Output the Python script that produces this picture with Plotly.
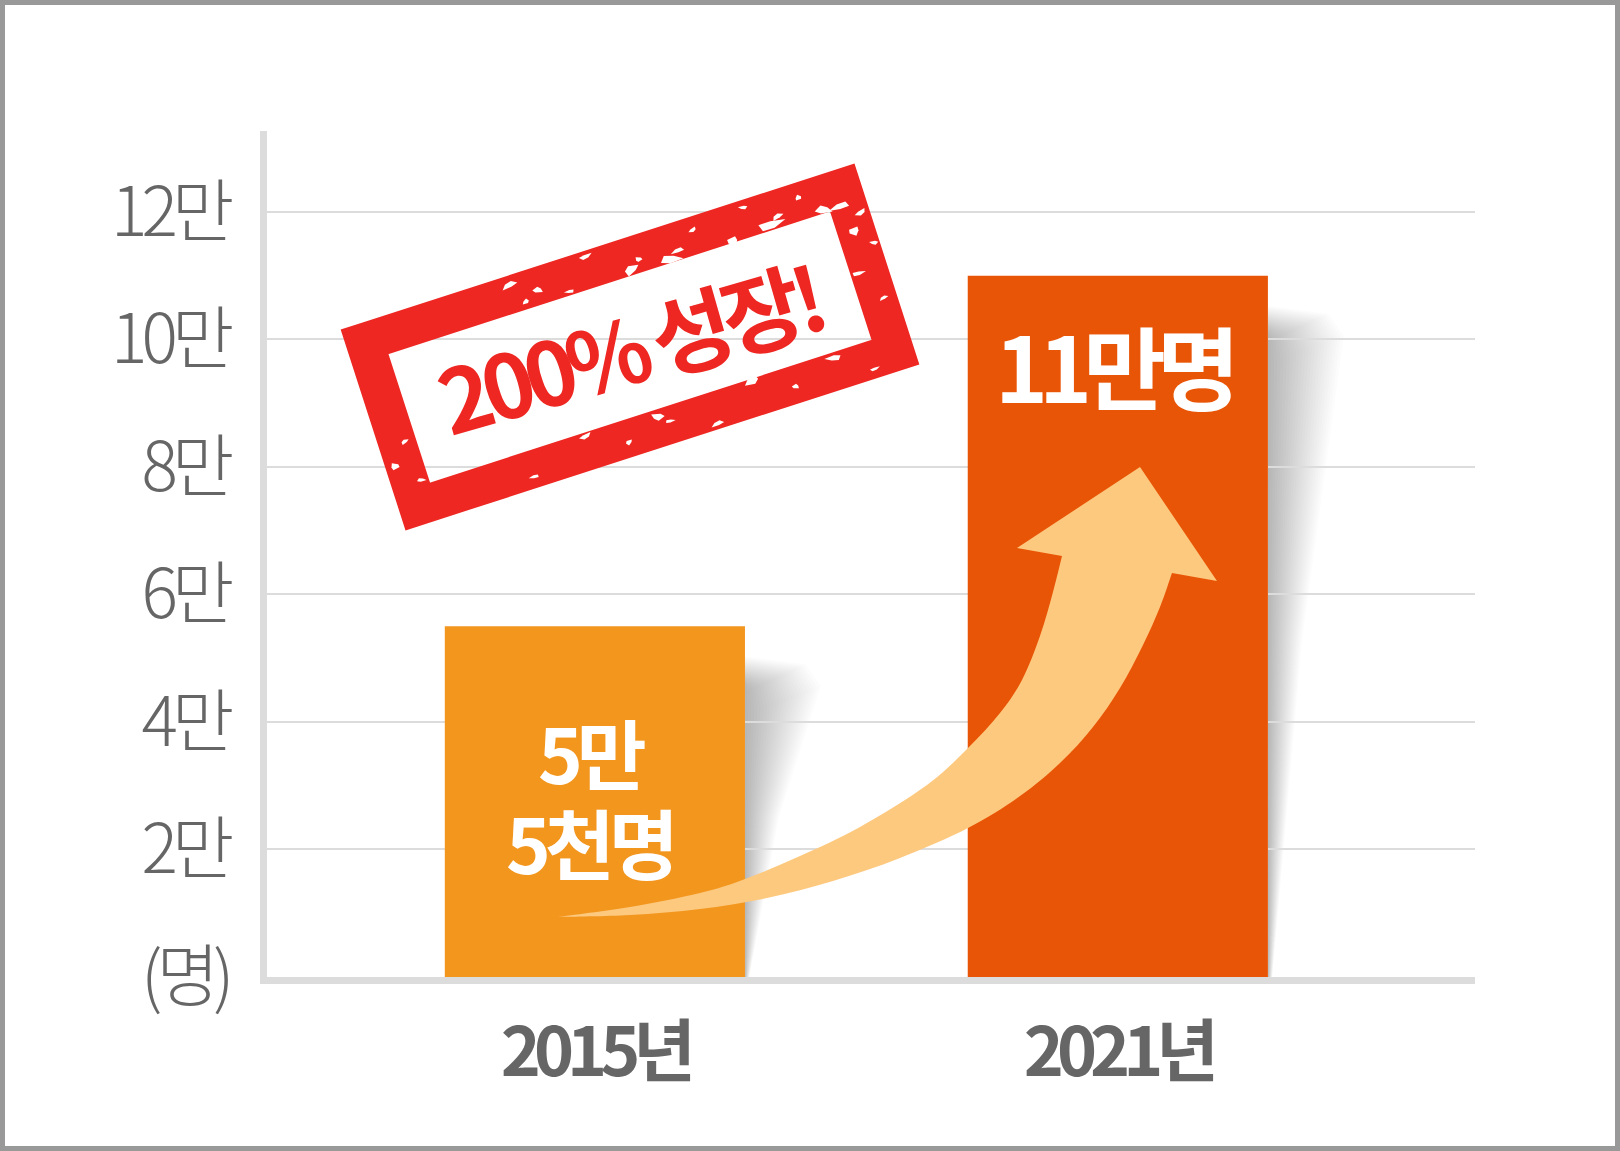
import math
import plotly.graph_objects as go

# data
years = ["2015년", "2021년"]
visitors = [55000, 110000]
bar_labels = [["5만", "5천명"], ["11만명"]]
y_tick_vals = [0, 20000, 40000, 60000, 80000, 100000, 120000]
y_tick_text = ["(명)", "2만", "4만", "6만", "8만", "10만", "12만"]
stamp_text = "200% 성장!"

# style / layout constants
W, H = 1620, 1151
ML, MR, MT, MB = 267, 145, 131, 174
X_RANGE = [-0.627, 1.683]
Y_RANGE = [0, 132700]
BAR_W = 0.574
FONT = "Noto Sans CJK KR"
GREY = "#666666"
bar_colors = ["#F2961E", "#E95506"]
label_sizes = [76, 90]
label_spacing = [-6, -9]
label_offsets = [0.5, 0.865]   # label centre as share of bar value
ARROW = "#FDC97F"
RED = "#EE2722"

plot_w = W - ML - MR
plot_h = H - MT - MB


def px2x(px):
    return X_RANGE[0] + (px - ML) / plot_w * (X_RANGE[1] - X_RANGE[0])


def py2y(py):
    return Y_RANGE[1] - (py - MT) / plot_h * (Y_RANGE[1] - Y_RANGE[0])


def x2px(x):
    return ML + (x - X_RANGE[0]) / (X_RANGE[1] - X_RANGE[0]) * plot_w


def y2py(y):
    return MT + (Y_RANGE[1] - y) / (Y_RANGE[1] - Y_RANGE[0]) * plot_h


def pt(p):
    return f"{px2x(p[0]):.5f},{py2y(p[1]):.1f}"


def spaced(txt, ls, size=None):
    st = f"letter-spacing:{ls}px"
    if size:
        st += f";font-size:{size}px"
    return f'<span style="{st}">{txt}</span>'


def smooth(points):
    # catmull-rom through the points -> cubic bezier commands
    out = []
    n = len(points)
    for i in range(n - 1):
        p0 = points[max(i - 1, 0)]
        p1 = points[i]
        p2 = points[i + 1]
        p3 = points[min(i + 2, n - 1)]
        c1 = (p1[0] + (p2[0] - p0[0]) / 6, p1[1] + (p2[1] - p0[1]) / 6)
        c2 = (p2[0] - (p3[0] - p1[0]) / 6, p2[1] - (p3[1] - p1[1]) / 6)
        out.append(f"C{pt(c1)} {pt(c2)} {pt(p2)}")
    return " ".join(out)


fig = go.Figure()
fig.add_trace(go.Bar(
    x=years, y=visitors, width=BAR_W,
    marker=dict(color=bar_colors, line=dict(width=0)),
    hoverinfo="skip",
))

shapes = []

# soft shadows to the right of the bars
N = 24
for i, v in enumerate(visitors):
    xr = x2px(i + BAR_W / 2)
    top = y2py(v) + 30
    bot = y2py(0)
    wt = 76
    for k in range(1, N + 1):
        f = k / N
        t = top + 28 * (1 - f)
        poly = [(xr, t), (xr + 0.8 * wt * f, t + 8), (xr + wt * f, t + 30),
                (xr + 0.45 * wt * f, top + 0.5 * (bot - top)),
                (xr + 0.06 * wt * f, bot), (xr, bot)]
        shapes.append(dict(type="path", xref="x", yref="y", layer="below",
                           path="M" + " L".join(pt(p) for p in poly) + " Z",
                           fillcolor="rgba(0,0,0,0.013)", line=dict(width=0)))

# curved arrow (outline in pixels)
tail = (558, 917)
upper = [tail, (630, 907), (700, 893), (745, 879), (800, 856), (860, 827),
         (927, 785), (968, 748), (1000, 713), (1022, 680), (1040, 636),
         (1053, 592), (1062, 556)]
head = [(1017, 548), (1140, 467), (1217, 581), (1172, 573)]
lower = [(1172, 573), (1160, 607), (1143, 645), (1120, 688), (1093, 727),
         (1060, 763), (1020, 796), (968, 828), (900, 858), (833, 881),
         (767, 898), (700, 909), (630, 915), tail]
arrow_path = ("M" + pt(tail) + " " + smooth(upper) + " "
              + " ".join("L" + pt(p) for p in head) + " "
              + smooth(lower) + " Z")
shapes.append(dict(type="path", xref="x", yref="y", layer="above",
                   path=arrow_path, fillcolor=ARROW, line=dict(width=0)))

# stamp frame (rotated rectangle)
cx, cy = 630, 347
ang = math.radians(17.9)
ux, uy = math.cos(ang), -math.sin(ang)
vx, vy = math.sin(ang), math.cos(ang)
BORDER = 38
hw, hh = (540 - BORDER) / 2, (211 - BORDER) / 2


def frame_pt(u, v):
    return (cx + ux * u + vx * v, cy + uy * u + vy * v)


corners = [frame_pt(-hw, -hh), frame_pt(hw, -hh), frame_pt(hw, hh), frame_pt(-hw, hh)]
shapes.append(dict(type="path", xref="x", yref="y", layer="above",
                   path="M" + " L".join(pt(p) for p in corners) + " Z",
                   line=dict(color=RED, width=BORDER)))

# worn-ink flecks on the stamp border: (side, position along, offset across, size)
flecks = [
    ("top", 0.31, -0.5, 5), ("top", 0.33, 0.6, 3), ("top", 0.36, 0.2, 4),
    ("top", 0.42, 0.8, 3), ("top", 0.47, -0.7, 4), ("top", 0.55, 0.7, 6),
    ("top", 0.57, 0.3, 3), ("top", 0.63, 0.8, 7), ("top", 0.65, 0.5, 4),
    ("top", 0.69, -0.3, 3), ("top", 0.76, 0.9, 5), ("top", 0.80, -0.6, 3),
    ("top", 0.84, 0.7, 8), ("top", 0.86, 0.4, 4), ("top", 0.91, -0.2, 3),
    ("top", 0.95, 0.8, 6),
    ("bottom", 0.24, 0.4, 3), ("bottom", 0.36, -0.8, 4), ("bottom", 0.44, 0.2, 3),
    ("bottom", 0.51, -0.6, 5), ("bottom", 0.53, -0.2, 3), ("bottom", 0.62, 0.7, 4),
    ("bottom", 0.71, -0.9, 6), ("bottom", 0.79, 0.1, 3), ("bottom", 0.88, -0.7, 5),
    ("bottom", 0.95, 0.5, 3),
    ("left", 0.62, 0.4, 3), ("left", 0.74, -0.5, 4), ("left", 0.86, 0.6, 3),
    ("right", 0.10, -0.4, 6), ("right", 0.17, 0.5, 4), ("right", 0.26, -0.1, 5),
    ("right", 0.36, 0.7, 3), ("right", 0.50, -0.6, 4), ("right", 0.68, 0.3, 3),
]
for n, (side, s, d, r) in enumerate(flecks):
    half = BORDER / 2
    if side in ("top", "bottom"):
        u0 = -hw + 2 * hw * s
        v0 = (-hh if side == "top" else hh) + d * half
    else:
        u0 = (-hw if side == "left" else hw) + d * half
        v0 = -hh + 2 * hh * s
    rot = n * 2.4
    blob = []
    for j, rr in enumerate([1.0, 0.55, 1.3, 0.7, 0.9]):
        a = rot + j * 2 * math.pi / 5
        blob.append(frame_pt(u0 + r * rr * 1.6 * math.cos(a), v0 + r * rr * 0.8 * math.sin(a)))
    shapes.append(dict(type="path", xref="x", yref="y", layer="above",
                       path="M" + " L".join(pt(p) for p in blob) + " Z",
                       fillcolor="white", line=dict(width=0)))

# outer frame of the picture
shapes.append(dict(type="rect", xref="paper", yref="paper",
                   x0=-ML / plot_w, x1=(W - ML) / plot_w,
                   y0=-MB / plot_h, y1=(H - MB) / plot_h,
                   line=dict(color="#999999", width=10)))

annotations = []
for i, (v, lines) in enumerate(zip(visitors, bar_labels)):
    annotations.append(dict(
        x=i - 0.01, y=v * label_offsets[i], xref="x", yref="y", yshift=6,
        text="<br>".join(spaced(s, label_spacing[i], label_sizes[i]) for s in lines),
        showarrow=False,
        font=dict(family=FONT, size=69, color="white", weight=700),
    ))
annotations.append(dict(
    x=px2x(627), y=py2y(345), xref="x", yref="y",
    text=spaced(stamp_text, -8), showarrow=False, textangle=-16,
    font=dict(family=FONT, size=88, color=RED, weight=700),
))

fig.update_layout(
    width=W, height=H,
    margin=dict(l=ML, r=MR, t=MT, b=MB, pad=0),
    paper_bgcolor="white", plot_bgcolor="white",
    showlegend=False,
    shapes=shapes,
    annotations=annotations,
    xaxis=dict(
        range=X_RANGE, showgrid=False, zeroline=False,
        tickvals=years, ticktext=[spaced(y, -7) for y in years],
        showline=True, linecolor="#dcdcdc", linewidth=7, ticks="",
        tickfont=dict(family=FONT, size=68, color=GREY, weight=700),
        ticklabelstandoff=10,
    ),
    yaxis=dict(
        range=Y_RANGE, tickvals=y_tick_vals,
        ticktext=[spaced(t, -6) for t in y_tick_text],
        showgrid=True, gridcolor="#dcdcdc", gridwidth=2, zeroline=False,
        showline=True, linecolor="#dcdcdc", linewidth=7, ticks="",
        tickfont=dict(family=FONT, size=68, color=GREY, weight=300),
        ticklabelstandoff=18,
    ),
)

fig.write_html("out.html", config={"displayModeBar": False},
               post_script="document.body.style.margin='0';")
